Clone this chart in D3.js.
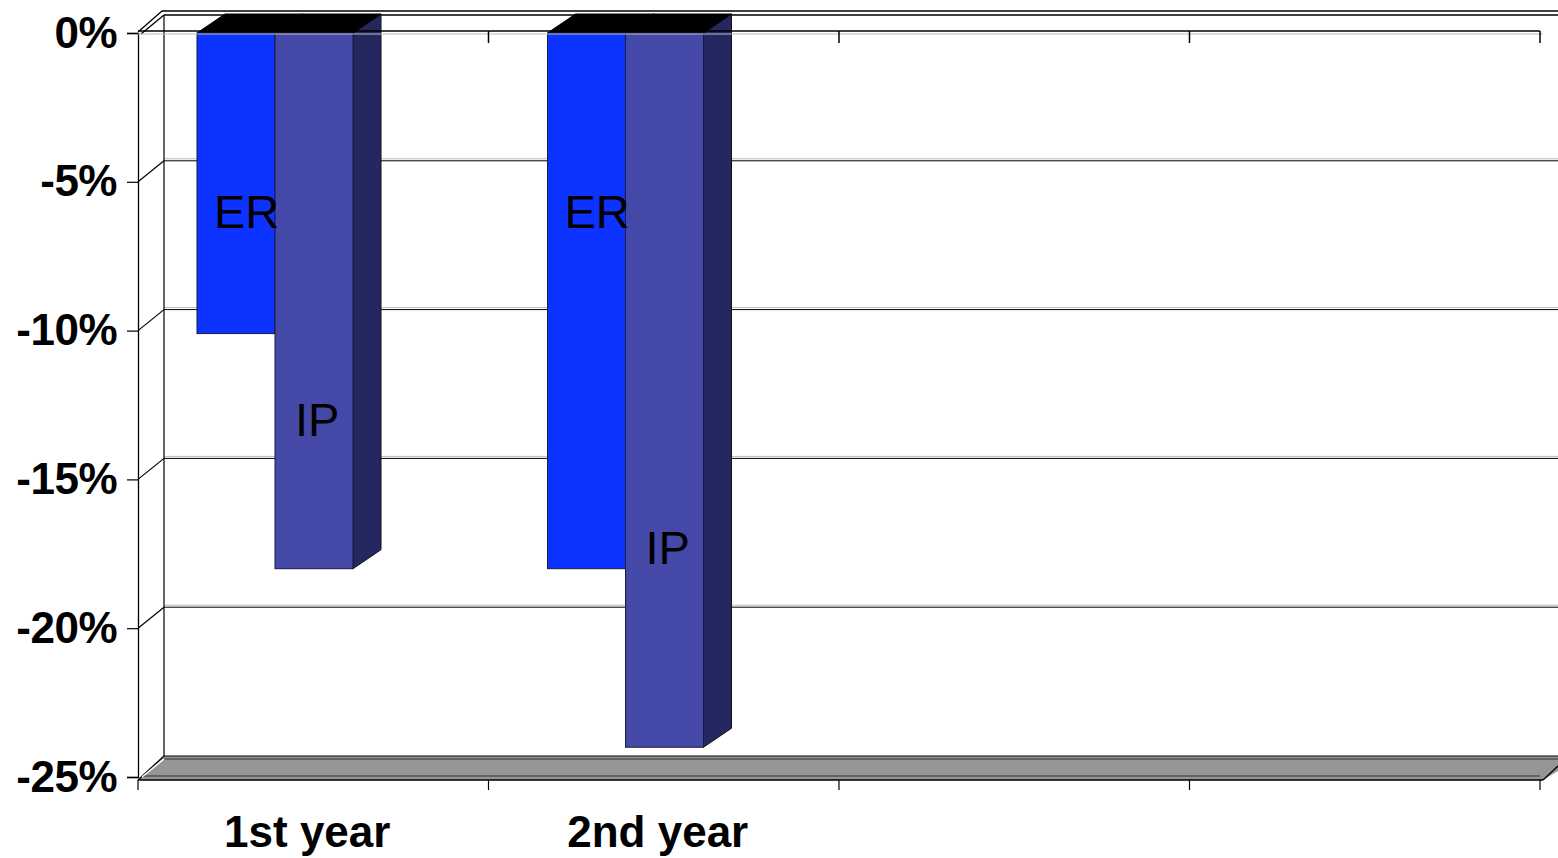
<!DOCTYPE html>
<html>
<head>
<meta charset="utf-8">
<script src="https://cdn.jsdelivr.net/npm/d3@7"></script>
<style>
  html, body { margin: 0; padding: 0; background: #ffffff; }
  svg { display: block; }
  text { font-family: "Liberation Sans", Arial, sans-serif; }
</style>
</head>
<body>
<svg id="chart" width="1558" height="858"></svg>
<script>
// ---- data ----
const categories = ["1st year", "2nd year", "", ""];
const series = ["ER", "IP"];
const erValues = [-10.1, -18.0];
const ipValues = [-18.0, -24.0];
const yTicks = [0, -5, -10, -15, -20, -25];
const labelAt = { ER: [-6.0, -6.0], IP: [-13.0, -17.3] };

const colors = { ER: "#0c33ff", IP: "#4449a8", side: "#252860", top: "#000000", floor: "#969696" };

const W = 1558, H = 858;
const svg = d3.select("#chart");

const y = d3.scaleLinear().domain([0, -25]).range([33, 777]);
const x = d3.scaleBand().domain(categories.map((c, i) => i)).range([138, 1540]).paddingInner(0).paddingOuter(0);
const xs = d3.scaleBand().domain(series).range([59, 59 + 156]);

const wallD = { dx: 26, dy: -21 };
const barD = { dx: 28, dy: -19 };

const x0 = 138, x1 = 1540;

// ---- back wall gridlines ----
const g = svg.append("g");
yTicks.forEach(v => {
  const yf = y(v), yb = y(v) + wallD.dy;
  if (v === 0) {
    g.append("line").attr("x1", x0 + wallD.dx - 2).attr("x2", W).attr("y1", yb - 1).attr("y2", yb - 1).attr("stroke", "#000").attr("stroke-width", 1.3);
    g.append("line").attr("x1", x0 + wallD.dx).attr("x2", W).attr("y1", yb + 3).attr("y2", yb + 3).attr("stroke", "#000").attr("stroke-width", 1.3);
    g.append("line").attr("x1", x0).attr("x2", x0 + wallD.dx - 2).attr("y1", yf - 1).attr("y2", yb - 1).attr("stroke", "#000").attr("stroke-width", 1.3);
    g.append("line").attr("x1", x0 + 3).attr("x2", x0 + wallD.dx).attr("y1", yf + 1).attr("y2", yb + 3).attr("stroke", "#000").attr("stroke-width", 1.3);
  } else if (v !== -25) {
    g.append("line").attr("x1", x0 + wallD.dx).attr("x2", W).attr("y1", yb).attr("y2", yb).attr("stroke", "#000").attr("stroke-width", 1);
    g.append("line").attr("x1", x0 + wallD.dx).attr("x2", W).attr("y1", yb - 2).attr("y2", yb - 2).attr("stroke", "#bbb").attr("stroke-width", 1);
    g.append("line").attr("x1", x0).attr("x2", x0 + wallD.dx).attr("y1", yf).attr("y2", yb).attr("stroke", "#000").attr("stroke-width", 1.2);
  }
});
// back-left vertical edge
g.append("line").attr("x1", x0 + wallD.dx).attr("x2", x0 + wallD.dx)
  .attr("y1", y(0) + wallD.dy + 3).attr("y2", y(-25) + wallD.dy).attr("stroke", "#000").attr("stroke-width", 1.2);

// ---- floor ----
const yF = y(-25), yB = y(-25) + wallD.dy;
g.append("path")
  .attr("d", `M${x0},${yF + 3} L${x0 + wallD.dx},${yB} L${W + 10},${yB} L${W + 10},${yF - 12} L${x1 + 3},${yF + 3} Z`)
  .attr("fill", colors.floor).attr("stroke", "none");
g.append("line").attr("x1", x0 + wallD.dx).attr("x2", W).attr("y1", yB).attr("y2", yB).attr("stroke", "#000").attr("stroke-width", 1.2);
g.append("line").attr("x1", x0 + wallD.dx).attr("x2", W).attr("y1", yB + 3).attr("y2", yB + 3).attr("stroke", "#333").attr("stroke-width", 1);
g.append("line").attr("x1", x0 + 4).attr("x2", x1).attr("y1", yF - 1).attr("y2", yF - 1).attr("stroke", "#333").attr("stroke-width", 1);
g.append("line").attr("x1", x0).attr("x2", x1 + 3).attr("y1", yF + 3).attr("y2", yF + 3).attr("stroke", "#000").attr("stroke-width", 1.3);
g.append("line").attr("x1", x0).attr("x2", x0 + wallD.dx).attr("y1", yF + 3).attr("y2", yB).attr("stroke", "#000").attr("stroke-width", 1.3);
g.append("line").attr("x1", x0 + 4).attr("x2", x0 + wallD.dx).attr("y1", yF).attr("y2", yB + 3).attr("stroke", "#fff").attr("stroke-width", 1.5);
g.append("line").attr("x1", x1 + 3).attr("x2", W).attr("y1", yF + 3).attr("y2", yF - 11).attr("stroke", "#000").attr("stroke-width", 1.3);

// ---- bars ----
const bars = [];
categories.forEach((c, i) => {
  if (erValues[i] !== undefined) bars.push({ cat: i, s: "ER", v: erValues[i] });
  if (ipValues[i] !== undefined) bars.push({ cat: i, s: "IP", v: ipValues[i] });
});
const bg = svg.append("g");
bars.forEach(b => {
  const bx = x(b.cat) + xs(b.s), bw = xs.bandwidth();
  const yt = y(0), yb2 = y(b.v);
  const dx = barD.dx, dy = barD.dy;
  // side
  bg.append("path")
    .attr("d", `M${bx + bw},${yt} L${bx + bw + dx},${yt + dy} L${bx + bw + dx},${yb2 + dy} L${bx + bw},${yb2} Z`)
    .attr("fill", colors.side).attr("stroke", "#111").attr("stroke-width", 1);
  // top
  bg.append("path")
    .attr("d", `M${bx},${yt} L${bx + dx},${yt + dy} L${bx + bw + dx},${yt + dy} L${bx + bw},${yt} Z`)
    .attr("fill", colors.top).attr("stroke", "#000").attr("stroke-width", 1);
  // front
  bg.append("rect")
    .attr("x", bx).attr("y", yt).attr("width", bw).attr("height", yb2 - yt)
    .attr("fill", colors[b.s]).attr("stroke", "#1a1a40").attr("stroke-width", 1);
});

// ---- front-left vertical & y axis ----
const yAxis = d3.axisLeft(y).tickValues(yTicks).tickSize(11).tickPadding(10).tickFormat(d => d + "%");
const ya = svg.append("g").attr("transform", `translate(${x0},0)`).call(yAxis);
ya.select(".domain").attr("stroke", "#000").attr("stroke-width", 1.3);
ya.selectAll(".tick line").attr("stroke", "#000").attr("stroke-width", 1.2);
ya.selectAll(".tick text")
  .attr("fill", "#000").attr("font-size", 44).attr("font-weight", "bold")
  .attr("font-family", "'Liberation Sans', Arial, sans-serif").attr("letter-spacing", -0.5);

// top category axis line at 0 with downward ticks
svg.append("line").attr("x1", x0).attr("x2", x1).attr("y1", y(0) - 2).attr("y2", y(0) - 2).attr("stroke", "#000").attr("stroke-width", 1.3);
svg.append("line").attr("x1", x0).attr("x2", x1 + 3).attr("y1", y(0) + 1).attr("y2", y(0) + 1).attr("stroke", "#bbb").attr("stroke-width", 1);
const bounds = categories.map((c, i) => x(i)).concat([x1]);
bounds.forEach((bx, i) => {
  if (i > 0) svg.append("line").attr("x1", bx).attr("x2", bx).attr("y1", y(0) - 2).attr("y2", y(0) + 10).attr("stroke", "#000").attr("stroke-width", 1.5);
  svg.append("line").attr("x1", bx).attr("x2", bx).attr("y1", yF + 3).attr("y2", yF + 13).attr("stroke", "#000").attr("stroke-width", 1.2);
});

// category labels
svg.append("g").selectAll("text").data(categories.filter(c => c !== "").map((c, i) => ({ c, i })))
  .join("text")
  .attr("x", d => x(d.i) + x.bandwidth() / 2 - 6)
  .attr("y", 832)
  .attr("dy", "0.35em")
  .attr("text-anchor", "middle")
  .attr("font-size", 44).attr("font-weight", "bold")
  .attr("fill", "#000")
  .text(d => d.c);

// series labels on bars
const lab = [];
categories.forEach((c, i) => {
  series.forEach(s => {
    if (labelAt[s][i] !== undefined) lab.push({ cat: i, s, v: labelAt[s][i] });
  });
});
svg.append("g").selectAll("text").data(lab).join("text")
  .attr("x", d => x(d.cat) + xs(d.s) + (d.s === "IP" ? 20 : 17))
  .attr("y", d => y(d.v))
  .attr("dy", "0.35em")
  .attr("font-size", 47)
  .attr("fill", "#000")
  .text(d => d.s);
</script>
</body>
</html>
